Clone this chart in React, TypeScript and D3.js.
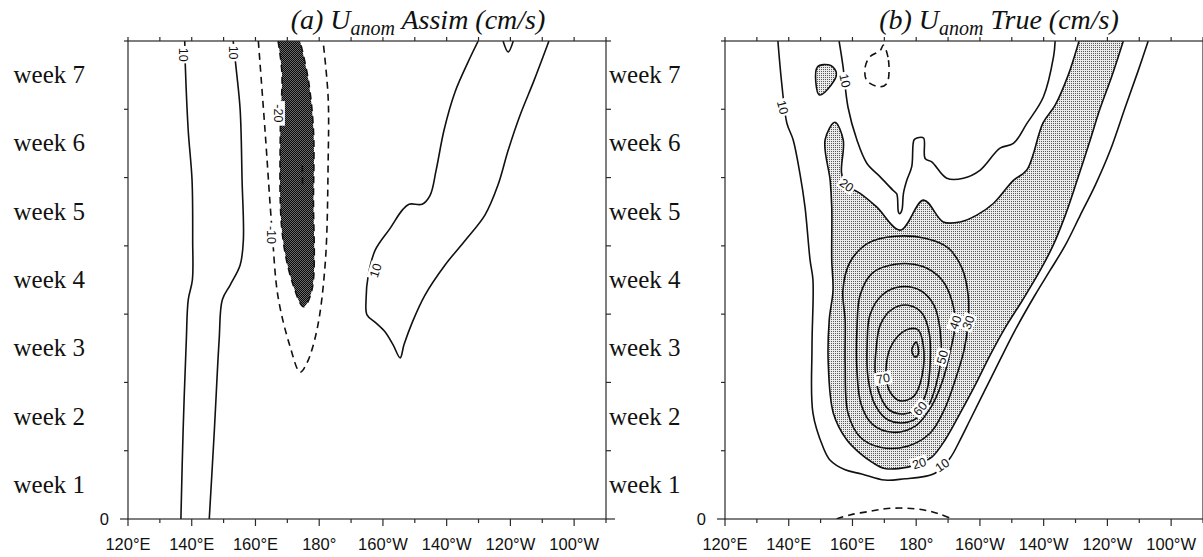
import React from "react";
import * as d3 from "d3";

// [longitude in degrees east, time in weeks]
type Pt = [number, number];

const LON_MIN = 120;
const LON_MAX = 270;
const WEEK_MAX = 7;

const lonMajorTicks = [120, 140, 160, 180, 200, 220, 240, 260];
const lonMajorLabels = ["120°E", "140°E", "160°E", "180°", "160°W", "140°W", "120°W", "100°W"];
const lonMinorTicks = [130, 150, 170, 190, 210, 230, 250, 270];
const weekTicks = [0, 1, 2, 3, 4, 5, 6, 7];
const weekLabels = ["week 1", "week 2", "week 3", "week 4", "week 5", "week 6", "week 7"];

// ---- (a) assimilated U anomaly, cm/s ----
const assimWest10: Pt[] = [[137.8, 7.0], [138.0, 6.62], [138.9, 5.69], [140.1, 4.96], [140.3, 4.08], [140.2, 3.5], [138.9, 3.21], [138.3, 2.62], [137.3, 1.3], [136.6, 0]];
const assimEast10: Pt[] = [[153.0, 7.0], [154.0, 6.57], [155.2, 5.99], [155.8, 4.96], [156.2, 4.08], [155.2, 3.72], [152.1, 3.43], [149.6, 3.21], [148.6, 2.62], [147.1, 1.3], [145.5, 0]];
const assimNeg10: Pt[] = [[160.9, 7.0], [163.0, 5.69], [165.2, 4.23], [167.1, 3.25], [170.9, 2.52], [174.0, 2.15], [176.1, 2.28], [179.3, 2.77], [181.9, 3.75], [182.8, 5.21], [182.8, 6.18], [181.2, 7.0]];
const assimNeg20: Pt[] = [[167.1, 7.0], [168.3, 6.53], [167.8, 5.69], [168.3, 4.23], [171.4, 3.49], [175.1, 3.11], [177.7, 3.35], [178.2, 4.72], [178.2, 5.69], [176.6, 6.43], [174.0, 7.0]];
const assimNeg30: Pt[] = [[174.7, 5.18], [174.8, 4.86]];
const assimCentral10: Pt[] = [[229.9, 7.0], [226.7, 6.69], [222.6, 6.25], [219.2, 5.7], [216.7, 5.11], [214.8, 4.74], [212.3, 4.61], [208.2, 4.61], [206.0, 4.52], [202.3, 4.26], [197.6, 3.94], [195.4, 3.57], [194.7, 3.21], [195.0, 2.99], [197.6, 2.88], [200.7, 2.74], [203.2, 2.55], [205.4, 2.36], [206.6, 2.55], [209.2, 2.88], [213.2, 3.28], [219.5, 3.72], [225.8, 4.08], [232.0, 4.45], [236.1, 4.89], [239.3, 5.4], [243.0, 5.91], [247.4, 6.42], [252.1, 7.0]];
const assimNotch10: Pt[] = [[237.7, 7.0], [239.3, 6.84], [240.9, 7.0]];

const assimLabelValues = ["10", "10", "-20", "-10", "10"];
const assimLabelLon = [137.5, 153.1, 167.2, 165.2, 197.6];
const assimLabelWeek = [6.8, 6.83, 5.94, 4.16, 3.64];

// ---- (b) true U anomaly, cm/s ----
const trueOuter10: Pt[] = [[136.6, 7.0], [137.8, 6.38], [139.4, 5.8], [141.4, 5.55], [143.5, 5.06], [145.1, 4.57], [146.7, 3.79], [147.6, 3.5], [147.3, 2.52], [147.6, 1.55], [150.8, 1.05], [153.0, 0.86], [157.7, 0.72], [162.9, 0.66], [170.1, 0.57], [176.5, 0.59], [180.9, 0.61], [185.9, 0.67], [190.6, 0.89], [193.8, 1.16], [196.9, 1.45], [201.6, 1.89], [206.3, 2.33], [211.1, 2.77], [217.3, 3.28], [222.0, 3.64], [226.8, 4.01], [231.5, 4.45], [236.2, 4.89], [240.9, 5.4], [245.6, 6.03], [249.7, 6.57], [252.8, 7.0]];
const trueInner10: Pt[] = [[155.8, 7.0], [157.0, 6.64], [158.6, 6.03], [161.4, 5.55], [164.5, 5.21], [168.7, 5.01], [172.8, 4.81], [173.9, 4.76], [174.4, 4.5], [174.8, 4.47], [175.5, 4.52], [176.0, 4.77], [177.05, 4.96], [178.6, 5.16], [179.3, 5.55], [180.2, 5.58], [182.3, 5.58], [182.8, 5.28], [184.9, 5.23], [189.6, 4.99], [194.8, 4.99], [200.1, 5.11], [206.3, 5.43], [210.5, 5.5], [214.7, 5.79], [219.9, 6.18], [223.1, 6.77], [223.6, 7.0]];
const trueNeg10Top: Pt[] = [[169.7, 6.94], [171.3, 6.72], [170.8, 6.38], [168.7, 6.33], [164.5, 6.42], [164.0, 6.62], [165.5, 6.77], [168.7, 6.86]];
const trueNeg10Bottom: Pt[] = [[155.0, 0], [159.2, 0.06], [165.2, 0.11], [170.2, 0.15], [175.0, 0.16], [179.7, 0.15], [183.7, 0.12], [187.5, 0.07], [191.3, 0]];
const trueCell20: Pt[] = [[149.0, 6.62], [153.2, 6.64], [155.0, 6.52], [153.2, 6.35], [149.6, 6.21]];
const trueMain20: Pt[] = [[231.1, 7.0], [227.7, 6.5], [223.6, 6.06], [219.8, 5.8], [214.7, 5.11], [210.5, 4.96], [204.2, 4.62], [199.0, 4.45], [193.8, 4.35], [188.5, 4.35], [182.3, 4.67], [175.0, 4.23], [167.6, 4.57], [162.4, 4.77], [158.2, 4.89], [156.6, 5.06], [157.1, 5.55], [154.5, 5.81], [151.4, 5.55], [153.0, 4.96], [153.5, 4.57], [153.5, 3.79], [153.9, 3.35], [152.7, 2.91], [152.4, 2.28], [154.0, 1.55], [158.2, 1.16], [162.4, 0.96], [166.2, 0.83], [170.1, 0.74], [177.4, 0.76], [181.5, 0.82], [185.0, 0.91], [189.1, 1.16], [193.8, 1.55], [198.5, 1.96], [203.2, 2.4], [207.9, 2.8], [213.3, 3.2], [218.9, 3.64], [223.0, 4.01], [226.8, 4.45], [230.5, 4.96], [234.6, 5.55], [237.7, 6.01], [241.5, 6.5], [245.0, 7.0]];
const trueRing30: Pt[] = [[157.0, 3.35], [159.2, 3.76], [164.9, 4.04], [173.4, 4.14], [182.8, 4.11], [190.0, 3.97], [194.4, 3.67], [196.3, 3.28], [196.3, 2.88], [195.0, 2.47], [192.2, 2.03], [188.8, 1.6], [184.4, 1.26], [177.5, 1.07], [168.7, 1.05], [162.4, 1.2], [158.6, 1.55], [157.7, 2.28], [157.7, 2.91]];
const trueRing40: Pt[] = [[161.4, 2.77], [162.4, 3.28], [166.2, 3.6], [173.4, 3.73], [181.9, 3.7], [188.1, 3.5], [191.3, 3.18], [192.2, 2.84], [190.6, 2.44], [188.1, 2.0], [184.4, 1.62], [179.7, 1.36], [172.7, 1.27], [166.2, 1.39], [162.7, 1.68], [161.4, 2.18]];
const trueRing50: Pt[] = [[164.6, 2.55], [165.5, 2.99], [169.3, 3.28], [175.0, 3.4], [181.2, 3.35], [185.6, 3.13], [187.5, 2.77], [187.8, 2.37], [186.2, 1.96], [183.1, 1.6], [177.5, 1.42], [171.2, 1.45], [167.1, 1.67], [164.9, 2.06]];
const trueRing60: Pt[] = [[167.4, 2.47], [168.7, 2.84], [172.4, 3.07], [177.5, 3.13], [181.9, 3.01], [184.1, 2.72], [184.4, 2.3], [183.4, 1.89], [180.9, 1.64], [176.2, 1.54], [171.5, 1.6], [168.4, 1.84], [167.1, 2.18]];
const trueRing70: Pt[] = [[170.6, 2.25], [171.8, 2.5], [174.3, 2.68], [177.5, 2.78], [180.6, 2.77], [182.2, 2.55], [181.9, 2.11], [179.3, 1.8], [175.0, 1.73], [171.8, 1.86], [170.6, 2.06]];
const trueCore80: Pt[] = [[178.6, 2.47], [180.0, 2.59], [180.7, 2.42], [179.7, 2.37]];

const trueLabelValues = ["10", "10", "20", "10", "20", "30", "40", "50", "60", "70"];
const trueLabelLon = [138.2, 157.7, 158.2, 188.1, 180.9, 196.3, 192.2, 188.1, 181.2, 169.6];
const trueLabelWeek = [6.03, 6.42, 4.89, 0.79, 0.82, 2.88, 2.88, 2.37, 1.62, 2.06];

// ---- layout ----
const PANEL_W = 478;
const PANEL_H = 478;
const PANEL_TOP = 41;
const A_LEFT = 128;
const B_LEFT = 725;

const LINE = "#111";
const AXIS = "#2a2a2a";
const SANS = "'Liberation Sans', Arial, sans-serif";
const SERIF = "'Liberation Serif', 'Times New Roman', serif";

type Contour = { pts: Pt[]; dashed: boolean; closed: boolean };
type Label = { text: string; lon: number; wk: number; angle: number };

function Panel(props: {
  left: number;
  contours: Contour[];
  fillsOpen: Pt[][];
  fillsClosed: Pt[][];
  fillId: string;
  labels: Label[];
  titleLead: string;
  titleTail: string;
  titleX: number;
  clipId: string;
}) {
  const { left, contours, fillsOpen, fillsClosed, fillId, labels, clipId } = props;
  const x = d3.scaleLinear().domain([LON_MIN, LON_MAX]).range([0, PANEL_W]);
  const y = d3.scaleLinear().domain([0, WEEK_MAX]).range([PANEL_H, 0]);
  const openLine = d3.line<Pt>().x((d) => x(d[0])).y((d) => y(d[1])).curve(d3.curveCatmullRom.alpha(0.5));
  const closedLine = d3.line<Pt>().x((d) => x(d[0])).y((d) => y(d[1])).curve(d3.curveCatmullRomClosed.alpha(0.5));

  return (
    <g>
      <text
        x={props.titleX}
        y={29}
        textAnchor="middle"
        fontFamily={SERIF}
        fontStyle="italic"
        fontSize={28}
        fill="#111"
      >
        {props.titleLead}
        <tspan dy={6} fontSize={20}>anom</tspan>
        <tspan dy={-6}>{props.titleTail}</tspan>
      </text>
      <g transform={`translate(${left},${PANEL_TOP})`}>
        <defs>
          <clipPath id={clipId}>
            <rect x={0} y={0} width={PANEL_W} height={PANEL_H} />
          </clipPath>
        </defs>
        <g clipPath={`url(#${clipId})`}>
          {fillsOpen.map((pts, i) => (
            <path key={`fo${i}`} d={(openLine(pts) || "") + "Z"} fill={`url(#${fillId})`} stroke="none" />
          ))}
          {fillsClosed.map((pts, i) => (
            <path key={`fc${i}`} d={closedLine(pts) || ""} fill={`url(#${fillId})`} stroke="none" />
          ))}
          {contours.map((c, i) => (
            <path
              key={`c${i}`}
              d={(c.closed ? closedLine(c.pts) : openLine(c.pts)) || ""}
              fill="none"
              stroke={LINE}
              strokeWidth={1.6}
              strokeDasharray={c.dashed ? "7,5" : undefined}
              strokeLinejoin="round"
            />
          ))}
          {labels.map((l, i) => {
            const w = l.text.length * 7.2 + 3;
            return (
              <g key={`l${i}`} transform={`translate(${x(l.lon)},${y(l.wk)}) rotate(${l.angle})`}>
                <rect x={-w / 2} y={-6.5} width={w} height={13} fill="#fff" />
                <text x={0} y={4.6} textAnchor="middle" fontFamily={SANS} fontSize={12.5} fill="#111">
                  {l.text}
                </text>
              </g>
            );
          })}
        </g>
        {/* frame */}
        <rect x={0} y={0} width={PANEL_W} height={PANEL_H} fill="none" stroke={AXIS} strokeWidth={1.2} />
        {/* longitude ticks */}
        {lonMajorTicks.map((t, i) => (
          <g key={`mx${t}`}>
            <line x1={x(t)} x2={x(t)} y1={PANEL_H} y2={PANEL_H + 7} stroke={AXIS} strokeWidth={1.2} />
            <line x1={x(t)} x2={x(t)} y1={0} y2={-4} stroke={AXIS} strokeWidth={1.2} />
            <text x={x(t)} y={PANEL_H + 31} textAnchor="middle" fontFamily={SANS} fontSize={16.5} fill="#111">
              {lonMajorLabels[i]}
            </text>
          </g>
        ))}
        {lonMinorTicks.map((t) => (
          <g key={`nx${t}`}>
            <line x1={x(t)} x2={x(t)} y1={PANEL_H} y2={PANEL_H + 4} stroke={AXIS} strokeWidth={1.2} />
            <line x1={x(t)} x2={x(t)} y1={0} y2={-4} stroke={AXIS} strokeWidth={1.2} />
          </g>
        ))}
        {/* week ticks */}
        {weekTicks.map((w) => (
          <line key={`wy${w}`} x1={0} x2={w === 0 ? -8 : -4} y1={y(w)} y2={y(w)} stroke={AXIS} strokeWidth={1.2} />
        ))}
        <text x={-19} y={PANEL_H + 6} textAnchor="end" fontFamily={SANS} fontSize={16.5} fill="#111">
          0
        </text>
      </g>
    </g>
  );
}

export default function App() {
  const y = d3.scaleLinear().domain([0, WEEK_MAX]).range([PANEL_TOP + PANEL_H, PANEL_TOP]);

  const assimContours: Contour[] = [
    { pts: assimWest10, dashed: false, closed: false },
    { pts: assimEast10, dashed: false, closed: false },
    { pts: assimNeg10, dashed: true, closed: false },
    { pts: assimNeg20, dashed: true, closed: false },
    { pts: assimNeg30, dashed: true, closed: false },
    { pts: assimCentral10, dashed: false, closed: false },
    { pts: assimNotch10, dashed: false, closed: false },
  ];
  const assimAngles = [90, 90, 90, 90, -72];
  const assimLabels: Label[] = assimLabelValues.map((t, i) => ({
    text: t,
    lon: assimLabelLon[i],
    wk: assimLabelWeek[i],
    angle: assimAngles[i],
  }));

  const trueContours: Contour[] = [
    { pts: trueOuter10, dashed: false, closed: false },
    { pts: trueInner10, dashed: false, closed: false },
    { pts: trueNeg10Top, dashed: true, closed: true },
    { pts: trueNeg10Bottom, dashed: true, closed: false },
    { pts: trueCell20, dashed: false, closed: true },
    { pts: trueMain20, dashed: false, closed: false },
    { pts: trueRing30, dashed: false, closed: true },
    { pts: trueRing40, dashed: false, closed: true },
    { pts: trueRing50, dashed: false, closed: true },
    { pts: trueRing60, dashed: false, closed: true },
    { pts: trueRing70, dashed: false, closed: true },
    { pts: trueCore80, dashed: false, closed: true },
  ];
  const trueAngles = [75, 78, 35, -35, -18, -70, -70, -75, -50, -10];
  const trueLabels: Label[] = trueLabelValues.map((t, i) => ({
    text: t,
    lon: trueLabelLon[i],
    wk: trueLabelWeek[i],
    angle: trueAngles[i],
  }));

  return (
    <svg
      width={1203}
      height={557}
      viewBox="0 0 1203 557"
      style={{ position: "absolute", left: 0, top: 0, display: "block", background: "#fff" }}
    >
      <defs>
        <pattern id="darkShade" width={2} height={2} patternUnits="userSpaceOnUse">
          <rect width={2} height={2} fill="#6a6a6a" />
          <rect x={0} y={0} width={1} height={1} fill="#0a0a0a" />
          <rect x={1} y={1} width={1} height={1} fill="#0a0a0a" />
        </pattern>
        <pattern id="lightStipple" width={2} height={2} patternUnits="userSpaceOnUse">
          <rect width={2} height={2} fill="#ececec" />
          <rect x={0} y={0} width={1} height={1} fill="#5a5a5a" />
        </pattern>
      </defs>
      <rect width={1203} height={557} fill="#fff" />

      <Panel
        left={A_LEFT}
        contours={assimContours}
        fillsOpen={[assimNeg20]}
        fillsClosed={[]}
        fillId="darkShade"
        labels={assimLabels}
        titleLead="(a) U"
        titleTail=" Assim (cm/s)"
        titleX={418}
        clipId="clipA"
      />
      <Panel
        left={B_LEFT}
        contours={trueContours}
        fillsOpen={[trueMain20]}
        fillsClosed={[trueCell20]}
        fillId="lightStipple"
        labels={trueLabels}
        titleLead="(b) U"
        titleTail=" True (cm/s)"
        titleX={999}
        clipId="clipB"
      />

      {/* right-hand week ticks of panel (a) */}
      {weekTicks.map((w) => (
        <line
          key={`rt${w}`}
          x1={A_LEFT + PANEL_W}
          x2={A_LEFT + PANEL_W + (w === 0 ? 9 : 5)}
          y1={y(w)}
          y2={y(w)}
          stroke={AXIS}
          strokeWidth={1.2}
        />
      ))}

      {/* week labels */}
      {weekLabels.map((lab, i) => (
        <g key={lab}>
          <text x={85} y={y(i + 0.5) + 8} textAnchor="end" fontFamily={SERIF} fontSize={25} fill="#111">
            {lab}
          </text>
          <text x={609} y={y(i + 0.5) + 8} textAnchor="start" fontFamily={SERIF} fontSize={25} fill="#111">
            {lab}
          </text>
        </g>
      ))}
    </svg>
  );
}
